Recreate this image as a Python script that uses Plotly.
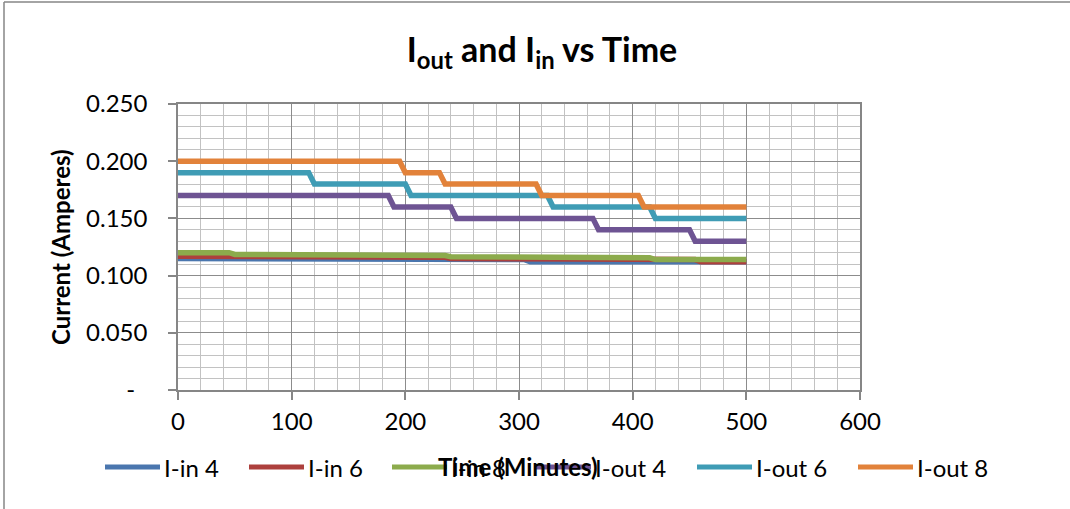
import plotly.graph_objects as go

# Readings: time (minutes) at which each current value was logged
t_in4 = [0, 80, 85, 305, 310, 500]
i_in4 = [0.115, 0.115, 0.114, 0.114, 0.112, 0.112]

t_in6 = [0, 60, 65, 235, 240, 415, 420, 455, 460, 500]
i_in6 = [0.117, 0.117, 0.116, 0.116, 0.115, 0.115, 0.114, 0.114, 0.112, 0.112]

t_in8 = [0, 45, 50, 115, 120, 235, 240, 280, 285, 415, 420, 500]
i_in8 = [0.120, 0.120, 0.1185, 0.1185, 0.1175, 0.1175, 0.1165, 0.1165, 0.1155, 0.1155, 0.114, 0.114]

t_out4 = [0, 185, 190, 240, 245, 365, 370, 450, 455, 500]
i_out4 = [0.170, 0.170, 0.160, 0.160, 0.150, 0.150, 0.140, 0.140, 0.130, 0.130]

t_out6 = [0, 115, 120, 200, 205, 325, 330, 415, 420, 500]
i_out6 = [0.190, 0.190, 0.180, 0.180, 0.170, 0.170, 0.160, 0.160, 0.150, 0.150]

t_out8 = [0, 195, 200, 230, 235, 315, 320, 405, 410, 500]
i_out8 = [0.200, 0.200, 0.190, 0.190, 0.180, 0.180, 0.170, 0.170, 0.160, 0.160]

series_names = ["I-in 4", "I-in 6", "I-in 8", "I-out 4", "I-out 6", "I-out 8"]
series_colors = ["#4a76ae", "#ad403d", "#8cab4c", "#6e5493", "#3f9cb5", "#e2823a"]
series_times = [t_in4, t_in6, t_in8, t_out4, t_out6, t_out8]
series_values = [i_in4, i_in6, i_in8, i_out4, i_out6, i_out8]

y_tick_vals = [0, 0.05, 0.10, 0.15, 0.20, 0.25]
y_tick_text = ["-\u00a0\u00a0", "0.050", "0.100", "0.150", "0.200", "0.250"]

FONT = "Lato"
W, H = 1070, 509
ML, MR, MT, MB = 178, 210, 104, 119
PW, PH = W - ML - MR, H - MT - MB


def px_x(px):
    return (px - ML) / PW


def px_y(py):
    return (H - MB - py) / PH


fig = go.Figure()
for name, t, v, c in zip(series_names, series_times, series_values, series_colors):
    fig.add_trace(go.Scatter(
        x=t, y=v, mode="lines", name=name, showlegend=False,
        line=dict(color=c, width=5.5),
    ))

axis_common = dict(
    showgrid=True, gridcolor="#8c8c8c", gridwidth=1.3,
    showline=True, linecolor="#868686", linewidth=1.5, mirror=True,
    ticks="outside", ticklen=8, tickcolor="#868686", tickwidth=1.5,
    tickfont=dict(family=FONT, size=24, color="#000000"),
    zeroline=False, fixedrange=True,
)

fig.update_xaxes(
    range=[0, 600], tick0=0, dtick=100,
    minor=dict(dtick=20, showgrid=True, gridcolor="#c2c2c2", gridwidth=1.4),
    ticklabelstandoff=1,
    **axis_common,
)
fig.update_yaxes(
    range=[0, 0.25], tickvals=y_tick_vals, ticktext=y_tick_text,
    minor=dict(tickvals=[i / 100 for i in range(26)], showgrid=True,
               gridcolor="#c2c2c2", gridwidth=1.4),
    ticklabelstandoff=16,
    **axis_common,
)

shapes = [
    # chart area frame (left and top edges)
    dict(type="line", xref="paper", yref="paper", x0=px_x(4), x1=px_x(1080),
         y0=px_y(2), y1=px_y(2), line=dict(color="#868686", width=1.5)),
    dict(type="line", xref="paper", yref="paper", x0=px_x(4), x1=px_x(4),
         y0=px_y(2), y1=px_y(520), line=dict(color="#868686", width=1.5)),
]

annotations = [
    dict(text="<b>Current (Amperes)</b>", xref="paper", yref="paper",
         x=px_x(60), y=px_y(247), textangle=-90, showarrow=False,
         xanchor="center", yanchor="middle",
         font=dict(family=FONT, size=24, color="#000000")),
    dict(text="<b>Time (Minutes)</b>", xref="paper", yref="paper",
         x=px_x(518), y=px_y(466), showarrow=False,
         xanchor="center", yanchor="middle",
         font=dict(family=FONT, size=24, color="#000000")),
]

# legend row beneath the plot
legend_line_x = [105, 249, 392, 536, 697, 858]
legend_y = 467
for name, c, lx in zip(series_names, series_colors, legend_line_x):
    shapes.append(dict(type="line", xref="paper", yref="paper",
                       x0=px_x(lx), x1=px_x(lx + 55), y0=px_y(legend_y), y1=px_y(legend_y),
                       line=dict(color=c, width=5)))
    annotations.append(dict(text=name, xref="paper", yref="paper",
                            x=px_x(lx + 57), y=px_y(legend_y), showarrow=False,
                            xanchor="left", yanchor="middle",
                            font=dict(family=FONT, size=24, color="#000000")))

fig.update_layout(
    width=W, height=H,
    margin=dict(l=ML, r=MR, t=MT, b=MB),
    paper_bgcolor="#ffffff", plot_bgcolor="#ffffff",
    title=dict(text="I<sub>out</sub> and I<sub>in</sub> vs Time",
               x=542 / W, xanchor="center", y=1 - 50 / H, yanchor="middle",
               xref="container", yref="container",
               font=dict(family=FONT, size=34, color="#000000", weight="bold")),
    shapes=shapes,
    annotations=annotations,
    showlegend=False,
)

fig.write_html("out.html")
